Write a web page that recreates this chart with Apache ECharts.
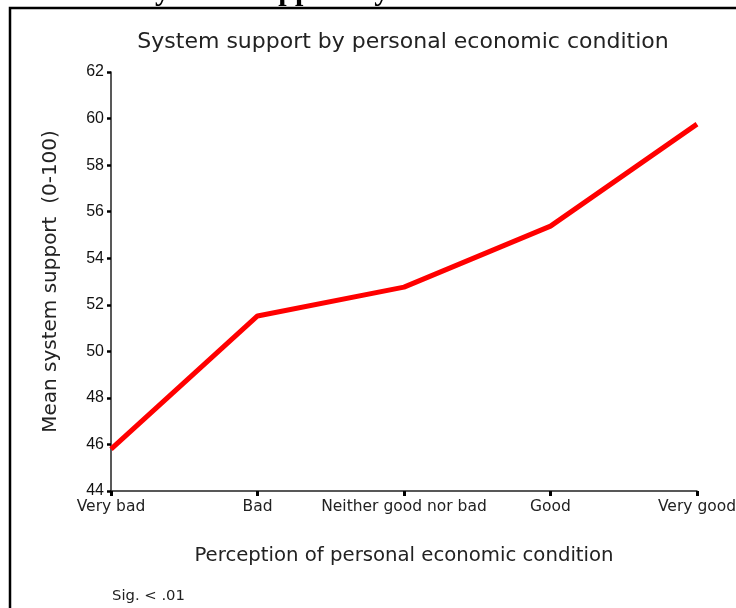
<!DOCTYPE html>
<html>
<head>
<meta charset="utf-8">
<script src="https://cdn.jsdelivr.net/npm/echarts@6/dist/echarts.min.js"></script>
<style>
  html, body { margin: 0; padding: 0; background: #fff; }
  #chart { width: 736px; height: 608px; }
</style>
</head>
<body>
<div id="chart"></div>
<script>
// category labels along the x axis
const conditions = ["Very bad", "Bad", "Neither good nor bad", "Good", "Very good"];
// mean system support (0-100)
const meanSupport = [45.8, 51.52, 52.76, 55.38, 59.76];

const chart = echarts.init(document.getElementById("chart"));
chart.setOption({
  animation: false,
  backgroundColor: "#fff",
  title: {
    text: "System support by personal economic condition",
    left: 398,
    textAlign: "center",
    top: 26,
    textStyle: { fontFamily: "DejaVu Sans", fontSize: 22, fontWeight: "normal", color: "#222" },
  },
  grid: { left: 111, right: 39, top: 72, bottom: 117, outerBoundsMode: "none" },
  xAxis: {
    type: "category",
    data: conditions,
    boundaryGap: false,
    name: "Perception of personal economic condition",
    nameLocation: "middle",
    nameGap: 55,
    nameTextStyle: { fontFamily: "DejaVu Sans", fontSize: 19.7, color: "#222" },
    axisLine: { lineStyle: { color: "#222", width: 1.5 } },
    axisTick: { length: 5, lineStyle: { color: "#000", width: 3 }, alignWithLabel: true },
    axisLabel: { interval: 0, margin: 8, fontFamily: "DejaVu Sans", fontSize: 15.5, color: "#222" },
    splitLine: { show: false },
  },
  yAxis: {
    type: "value",
    min: 44,
    max: 62,
    interval: 2,
    name: "Mean system support  (0-100)",
    nameLocation: "middle",
    nameGap: 50,
    nameTextStyle: { fontFamily: "DejaVu Sans", fontSize: 20, color: "#222" },
    axisLine: { show: true, lineStyle: { color: "#222", width: 1.5 } },
    axisTick: { show: true, length: 4, lineStyle: { color: "#000", width: 2.5 } },
    axisLabel: { margin: 7, fontFamily: "Liberation Sans", fontSize: 16, color: "#111" },
    splitLine: { show: false },
  },
  series: [
    {
      name: "Mean system support",
      type: "line",
      data: meanSupport,
      showSymbol: false,
      lineStyle: { color: "#ff0000", width: 5 },
    },
  ],
  graphic: [
    // frame of the pasted chart
    {
      type: "rect",
      shape: { x: 10, y: 8, width: 800, height: 700 },
      style: { fill: null, stroke: "#000", lineWidth: 2.5 },
    },
    // clipped document heading above the frame
    {
      type: "text",
      left: -72,
      top: -23,
      style: {
        text: "Figure 1.  Mean System  Support by Personal Economic Condition",
        font: "bold 30px 'Liberation Serif'",
        fill: "#000",
      },
    },
    {
      type: "text",
      left: 112,
      top: 589,
      style: { text: "Sig. < .01", font: "14.8px 'DejaVu Sans'", fill: "#222" },
    },
  ],
});
</script>
</body>
</html>
